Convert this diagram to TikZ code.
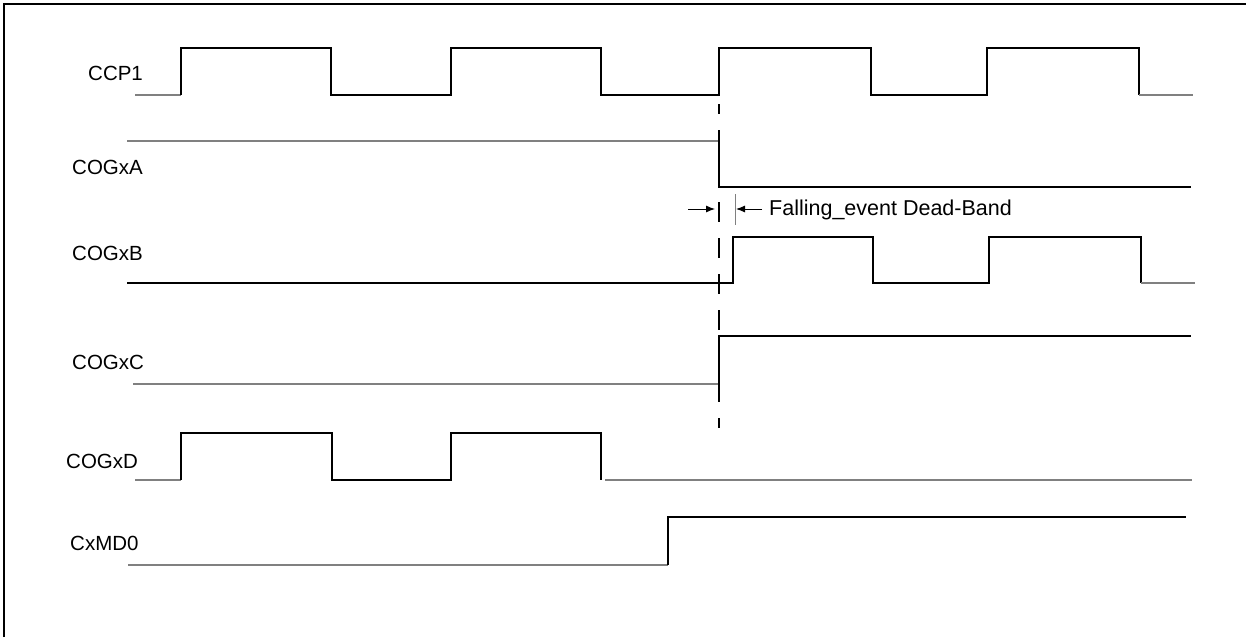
\documentclass[tikz,border=0pt]{standalone}
\usepackage{fontspec}
\setmainfont{Liberation Sans}
\usetikzlibrary{arrows.meta}

\begin{document}
\begin{tikzpicture}[
            x=1pt, y=-1pt,
            every node/.style={font=\fontsize{20.5}{24}\selectfont, inner sep=0pt, anchor=west},
            wave/.style={line width=1.8pt, black},
            idle/.style={line width=1.1pt, black!50},
            frameline/.style={line width=2.2pt},
            marker/.style={line width=1.8pt, dash pattern=on 20pt off 16pt, dash phase=10pt},
            band/.style={line width=0.9pt, -{Latex[length=9pt, width=7pt]}}
        ]
            \useasboundingbox (0,0) rectangle (1246,637);

            % Rahmen
            \draw[frameline] (4,637) -- (4,4) -- (1246,4);

            % Signalnamen
            \node (ccp) at (88,73) {CCP1};
            \node (cogA) at (72,167) {COGxA};
            \node (cogB) at (72,253) {COGxB};
            \node (cogC) at (72,362) {COGxC};
            \node (cogD) at (66,461) {COGxD};
            \node (cmd) at (70,543) {CxMD0};

            % CCP1
            \draw[idle] (135,95) -- (181,95);
            \draw[wave] (181,95) -- (181,48) -- (331,48) -- (331,95) -- (451,95) -- (451,48) -- (601,48) -- (601,95)
                -- (719,95) -- (719,48) -- (871,48) -- (871,95) -- (987,95) -- (987,48) -- (1139,48) -- (1139,95);
            \draw[idle] (1139,95) -- (1193,95);

            % COGxA
            \draw[idle] (127,141) -- (719,141);
            \draw[wave] (719,141) -- (719,187) -- (1191,187);

            % COGxB
            \draw[wave] (127,283) -- (733,283) -- (733,237) -- (873,237) -- (873,283) -- (989,283) -- (989,237)
                -- (1141,237) -- (1141,283);
            \draw[idle] (1141,283) -- (1195,283);

            % COGxC
            \draw[idle] (133,384) -- (719,384);
            \draw[wave] (719,384) -- (719,336) -- (1191,336);

            % COGxD
            \draw[idle] (135,480) -- (181,480);
            \draw[wave] (181,480) -- (181,433) -- (332,433) -- (332,480) -- (451,480) -- (451,433) -- (601,433) -- (601,480);
            \draw[idle] (605,480) -- (1192,480);

            % CxMD0
            \draw[idle] (128,565) -- (668,565);
            \draw[wave] (668,565) -- (668,517) -- (1186,517);

            % Totzeit
            \draw[marker] (719,104) -- (719,428);
            \coordinate (dbL) at (719,209);
            \coordinate (dbR) at (735,209);
            \draw[idle, line width=0.9pt] (735,194) -- (735,225);
            \draw[band] ([xshift=-31pt]dbL) -- ([xshift=-4pt]dbL);
            \draw[band] ([xshift=27pt]dbR) -- ([xshift=1pt]dbR);
            \node[font=\fontsize{21.5}{25}\selectfont] (dbtext) at (769,210) {Falling\_event Dead-Band};
        \end{tikzpicture}
\end{document}
